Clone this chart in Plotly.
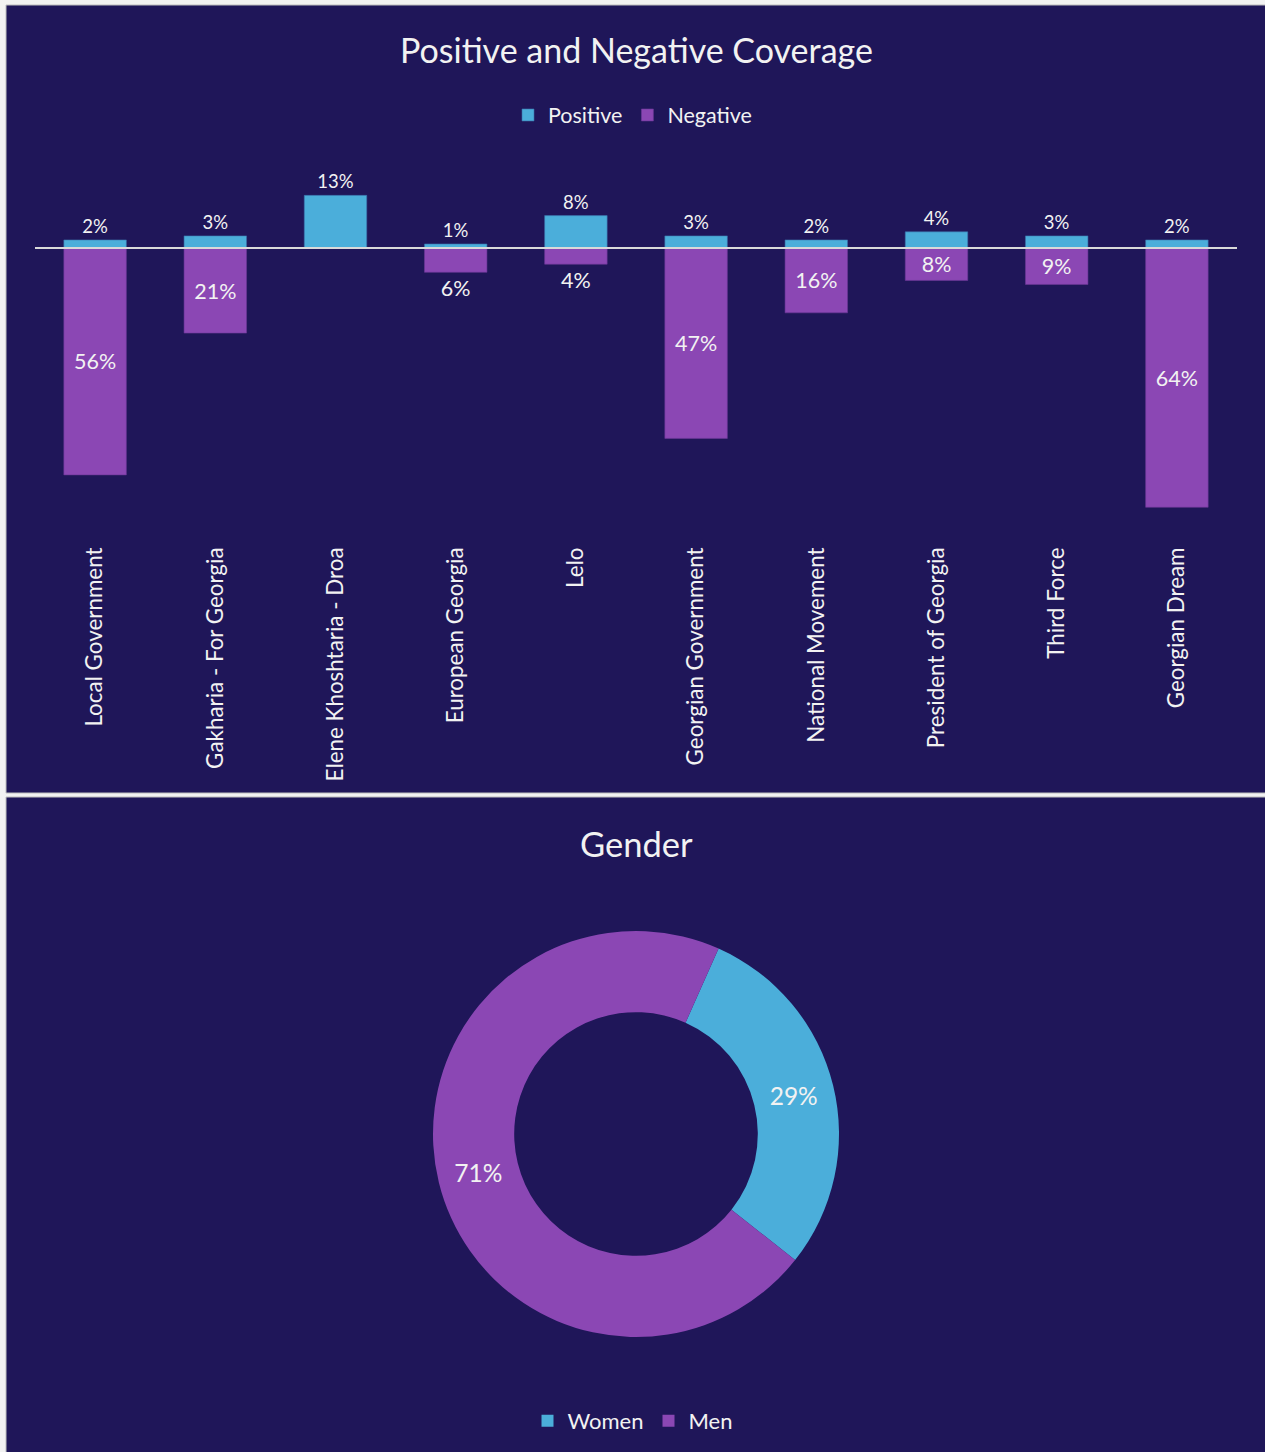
import plotly.graph_objects as go

categories = ["Local Government", "Gakharia - For Georgia", "Elene Khoshtaria - Droa",
              "European Georgia", "Lelo", "Georgian Government", "National Movement",
              "President of Georgia", "Third Force", "Georgian Dream"]
positive = [2, 3, 13, 1, 8, 3, 2, 4, 3, 2]
negative = [56, 21, None, 6, 4, 47, 16, 8, 9, 64]
neg_text_pos = ["inside", "inside", "none", "outside", "outside",
                "inside", "inside", "inside", "inside", "inside"]

gender_labels = ["Women", "Men"]
gender_values = [29, 71]

BG = "#1F1659"
BLUE = "#4BAEDA"
PURPLE = "#8B47B4"
TXT = "#F2F2F2"
FONT = "Lato"

W, H = 1265, 1452
def px(v): return v / W
def py(v): return 1 - v / H

fig = go.Figure()

fig.add_trace(go.Bar(
    x=categories, y=positive, name="Positive",
    marker=dict(color=BLUE, line=dict(width=0.6, color="#3A6FA8")),
    text=[f"{v}%" for v in positive], textposition="outside",
    textfont=dict(color=TXT, size=18.5, family=FONT),
    cliponaxis=False, hoverinfo="skip",
))
fig.add_trace(go.Bar(
    x=categories, y=[-v if v is not None else None for v in negative], name="Negative",
    marker=dict(color=PURPLE, line=dict(width=0.6, color="#6A3796")),
    text=[f"{v}%" if v is not None else "" for v in negative],
    textposition=neg_text_pos, insidetextanchor="middle",
    textfont=dict(color=TXT, size=21.5, family=FONT),
    cliponaxis=False, hoverinfo="skip",
))

fig.add_trace(go.Pie(
    labels=gender_labels, values=gender_values, hole=0.6, sort=False,
    direction="clockwise", rotation=24,
    marker=dict(colors=[BLUE, PURPLE], line=dict(width=0)),
    texttemplate="%{value}%", textposition="inside",
    insidetextorientation="horizontal",
    textfont=dict(color=TXT, size=24.5, family=FONT),
    domain=dict(x=[px(433), px(839)], y=[py(1337), py(931)]),
    legend="legend2", hoverinfo="skip",
))

fig.update_layout(
    width=W, height=H,
    margin=dict(l=0, r=0, t=0, b=0),
    paper_bgcolor="#F2F2F2", plot_bgcolor="rgba(0,0,0,0)",
    barmode="relative", bargap=0.48,
    font=dict(family=FONT, color=TXT),
    xaxis=dict(domain=[px(35), px(1237)], tickangle=-90, showgrid=False, showline=False,
               ticks="", ticklabelstandoff=10,
               tickfont=dict(size=22.4, color=TXT, family=FONT), fixedrange=True),
    yaxis=dict(domain=[py(532), py(150)], range=[-70.1, 24.2], showgrid=False,
               zeroline=False, showticklabels=False, showline=False, fixedrange=True),
    legend=dict(orientation="h", x=0.5, xanchor="center", y=py(115), yanchor="middle",
                font=dict(size=21.5, color=TXT, family=FONT), bgcolor="rgba(0,0,0,0)",
                traceorder="normal", itemwidth=30),
    legend2=dict(orientation="h", x=0.5, xanchor="center", y=py(1421), yanchor="middle",
                 font=dict(size=22, color=TXT, family=FONT), bgcolor="rgba(0,0,0,0)",
                 itemwidth=30),
    shapes=[
        dict(type="rect", xref="paper", yref="paper", x0=px(6), x1=1.01, y0=py(793), y1=py(5),
             fillcolor=BG, line=dict(color="#BFBFBF", width=1), layer="below"),
        dict(type="rect", xref="paper", yref="paper", x0=px(6), x1=1.01, y0=-0.01, y1=py(797),
             fillcolor=BG, line=dict(color="#BFBFBF", width=1), layer="below"),
        dict(type="line", xref="x domain", yref="y", x0=0, x1=1, y0=0, y1=0,
             line=dict(color="#D9D9D9", width=2), layer="above"),
    ],
    annotations=[
        dict(text="Positive and Negative Coverage", xref="paper", yref="paper",
             x=px(636), y=py(50), xanchor="center", yanchor="middle", showarrow=False,
             font=dict(size=34, color=TXT, family=FONT)),
        dict(text="Gender", xref="paper", yref="paper",
             x=px(636), y=py(843), xanchor="center", yanchor="middle", showarrow=False,
             font=dict(size=34.5, color=TXT, family=FONT)),
    ],
)

fig.write_html("out.html", config={"displayModeBar": False},
               post_script="document.body.style.margin='0';document.body.style.overflow='hidden';")
